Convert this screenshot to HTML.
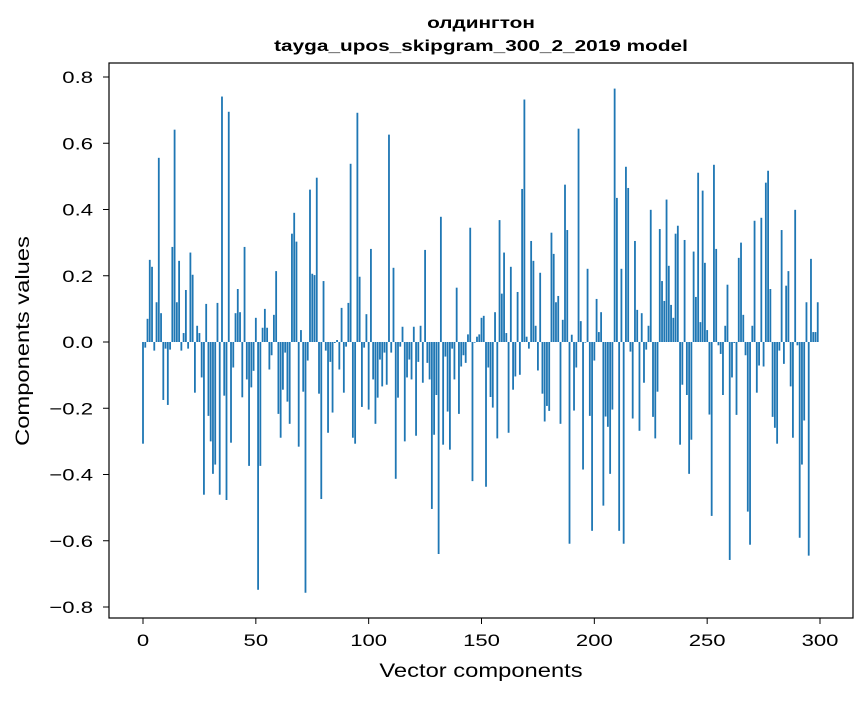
<!DOCTYPE html>
<html><head><meta charset="utf-8"><style>
body{margin:0;background:#fff}
svg text{font-family:"Liberation Sans","DejaVu Sans",sans-serif}
</style></head><body>
<svg id="chart" width="867" height="696" viewBox="0 0 867 696" xmlns="http://www.w3.org/2000/svg">
<rect width="867" height="696" fill="#fff"/>
<text transform="translate(481,28) scale(1.3,1)" text-anchor="middle" font-size="16" font-weight="bold">олдингтон</text>
<text transform="translate(481,51) scale(1.3,1)" text-anchor="middle" font-size="16" font-weight="bold">tayga_upos_skipgram_300_2_2019 model</text>
<g id="bars"></g>
<g id="axes"></g>
<rect x="109" y="63" width="744" height="555" fill="none" stroke="#000" stroke-width="1.2"/>
<text transform="translate(481,677) scale(1.25,1)" text-anchor="middle" font-size="19">Vector components</text>
<text transform="translate(29,341) rotate(-90) scale(1.25,1)" text-anchor="middle" font-size="19">Components values</text>
</svg>
<script>
const values = [
-0.307,-0.017,0.07,0.248,0.227,-0.026,0.12,0.556,0.087,-0.175,
-0.02,-0.19,-0.023,0.287,0.641,0.12,0.245,-0.026,0.027,0.157,
-0.02,0.27,0.203,-0.153,0.049,0.027,-0.107,-0.461,0.115,-0.223,
-0.3,-0.398,-0.37,0.118,-0.461,0.741,-0.162,-0.477,0.695,-0.304,
-0.077,0.087,0.16,0.09,-0.167,0.287,-0.113,-0.374,-0.137,-0.087,
0.073,-0.748,-0.374,0.043,0.1,0.043,-0.083,-0.04,0.082,0.214,
-0.217,-0.289,-0.144,-0.032,-0.18,-0.247,0.327,0.39,0.303,-0.316,
0.036,-0.15,-0.757,-0.056,0.46,0.206,0.202,0.496,-0.156,-0.474,
0.184,-0.026,-0.274,-0.06,-0.213,-0.003,0.006,-0.083,0.103,-0.153,
-0.014,0.118,0.538,-0.289,-0.307,0.692,0.197,-0.196,-0.017,0.084,
-0.204,0.281,-0.113,-0.247,-0.168,-0.053,-0.134,-0.032,-0.129,0.626,
-0.032,0.224,-0.413,-0.168,-0.014,0.046,-0.3,-0.107,-0.053,-0.113,
0.046,-0.283,-0.06,0.049,-0.123,0.278,-0.063,-0.113,-0.504,-0.28,
-0.16,-0.64,0.378,-0.31,-0.044,-0.21,-0.325,-0.02,-0.113,0.164,
-0.217,-0.074,-0.04,-0.063,0.023,0.345,-0.42,-0.002,0.016,0.023,
0.073,0.079,-0.437,-0.077,-0.166,-0.198,0.09,-0.291,0.368,0.146,
0.27,0.027,-0.274,0.227,-0.144,-0.104,0.151,-0.099,0.462,0.732,
0.016,-0.02,0.305,0.245,0.049,-0.086,0.209,-0.156,-0.24,-0.193,
-0.208,0.33,0.266,0.12,0.139,-0.247,0.067,0.475,0.338,-0.609,
0.022,-0.207,-0.077,0.644,0.063,-0.385,-0.002,0.221,-0.223,-0.57,
-0.056,0.13,0.03,0.09,-0.494,-0.225,-0.256,-0.398,-0.204,0.765,
0.435,-0.57,0.221,-0.609,0.529,0.465,-0.029,-0.231,0.305,0.097,
-0.268,0.087,-0.123,-0.023,0.049,0.399,-0.226,-0.291,-0.15,0.341,
0.184,0.124,0.43,0.23,0.112,0.073,0.327,0.351,-0.31,-0.129,
0.308,-0.16,-0.398,-0.295,0.273,0.136,0.511,0.06,0.457,0.239,
0.036,-0.219,-0.525,0.535,0.281,-0.01,-0.036,-0.16,0.049,0.173,
-0.658,-0.107,-0.003,-0.22,0.254,0.3,0.082,-0.04,-0.512,-0.612,
0.049,0.366,-0.153,-0.071,0.375,-0.074,0.481,0.517,0.16,-0.226,
-0.259,-0.307,-0.026,0.338,-0.066,0.17,0.214,-0.134,-0.289,0.399,
-0.01,-0.591,-0.37,-0.237,0.12,-0.645,0.251,0.03,0.03,0.12
];
const xTicks = [0,50,100,150,200,250,300];
const yTicks = [-0.8,-0.6,-0.4,-0.2,0.0,0.2,0.4,0.6,0.8];
const yTickLabels = ["\u22120.8","\u22120.6","\u22120.4","\u22120.2","0.0","0.2","0.4","0.6","0.8"];

const NS = "http://www.w3.org/2000/svg";
function xs(v){ return 143 + v * (677/300); }
function ys(v){ return 342 - v * 331.25; }
const bars = document.getElementById('bars');
values.forEach((v,i)=>{
  const r = document.createElementNS(NS,'rect');
  const y0 = ys(0), y1 = ys(v);
  r.setAttribute('x', xs(i-0.4));
  r.setAttribute('width', xs(0.8)-xs(0));
  r.setAttribute('y', Math.min(y0,y1));
  r.setAttribute('height', Math.max(Math.abs(y1-y0),0.3));
  r.setAttribute('fill','#1f77b4');
  
  
  bars.appendChild(r);
});
const axes = document.getElementById('axes');
xTicks.forEach(t=>{
  const l = document.createElementNS(NS,'line');
  l.setAttribute('x1',xs(t)); l.setAttribute('x2',xs(t));
  l.setAttribute('y1',618); l.setAttribute('y2',624);
  l.setAttribute('stroke','#000');
  
  
  axes.appendChild(l);
  const tx = document.createElementNS(NS,'text');
  tx.setAttribute('transform','translate('+xs(t)+',646) scale(1.3,1)');
  tx.setAttribute('text-anchor','middle'); tx.setAttribute('font-size','17');
  tx.textContent = String(t);
  
  
  axes.appendChild(tx);
});
yTicks.forEach((t,i)=>{
  const l = document.createElementNS(NS,'line');
  l.setAttribute('x1',103); l.setAttribute('x2',109);
  l.setAttribute('y1',ys(t)); l.setAttribute('y2',ys(t));
  l.setAttribute('stroke','#000');
  
  
  axes.appendChild(l);
  const tx = document.createElementNS(NS,'text');
  tx.setAttribute('transform','translate(93,'+(ys(t)+6)+') scale(1.3,1)');
  tx.setAttribute('text-anchor','end'); tx.setAttribute('font-size','17');
  tx.textContent = yTickLabels[i];
  
  
  axes.appendChild(tx);
});
</script>
</body></html>
